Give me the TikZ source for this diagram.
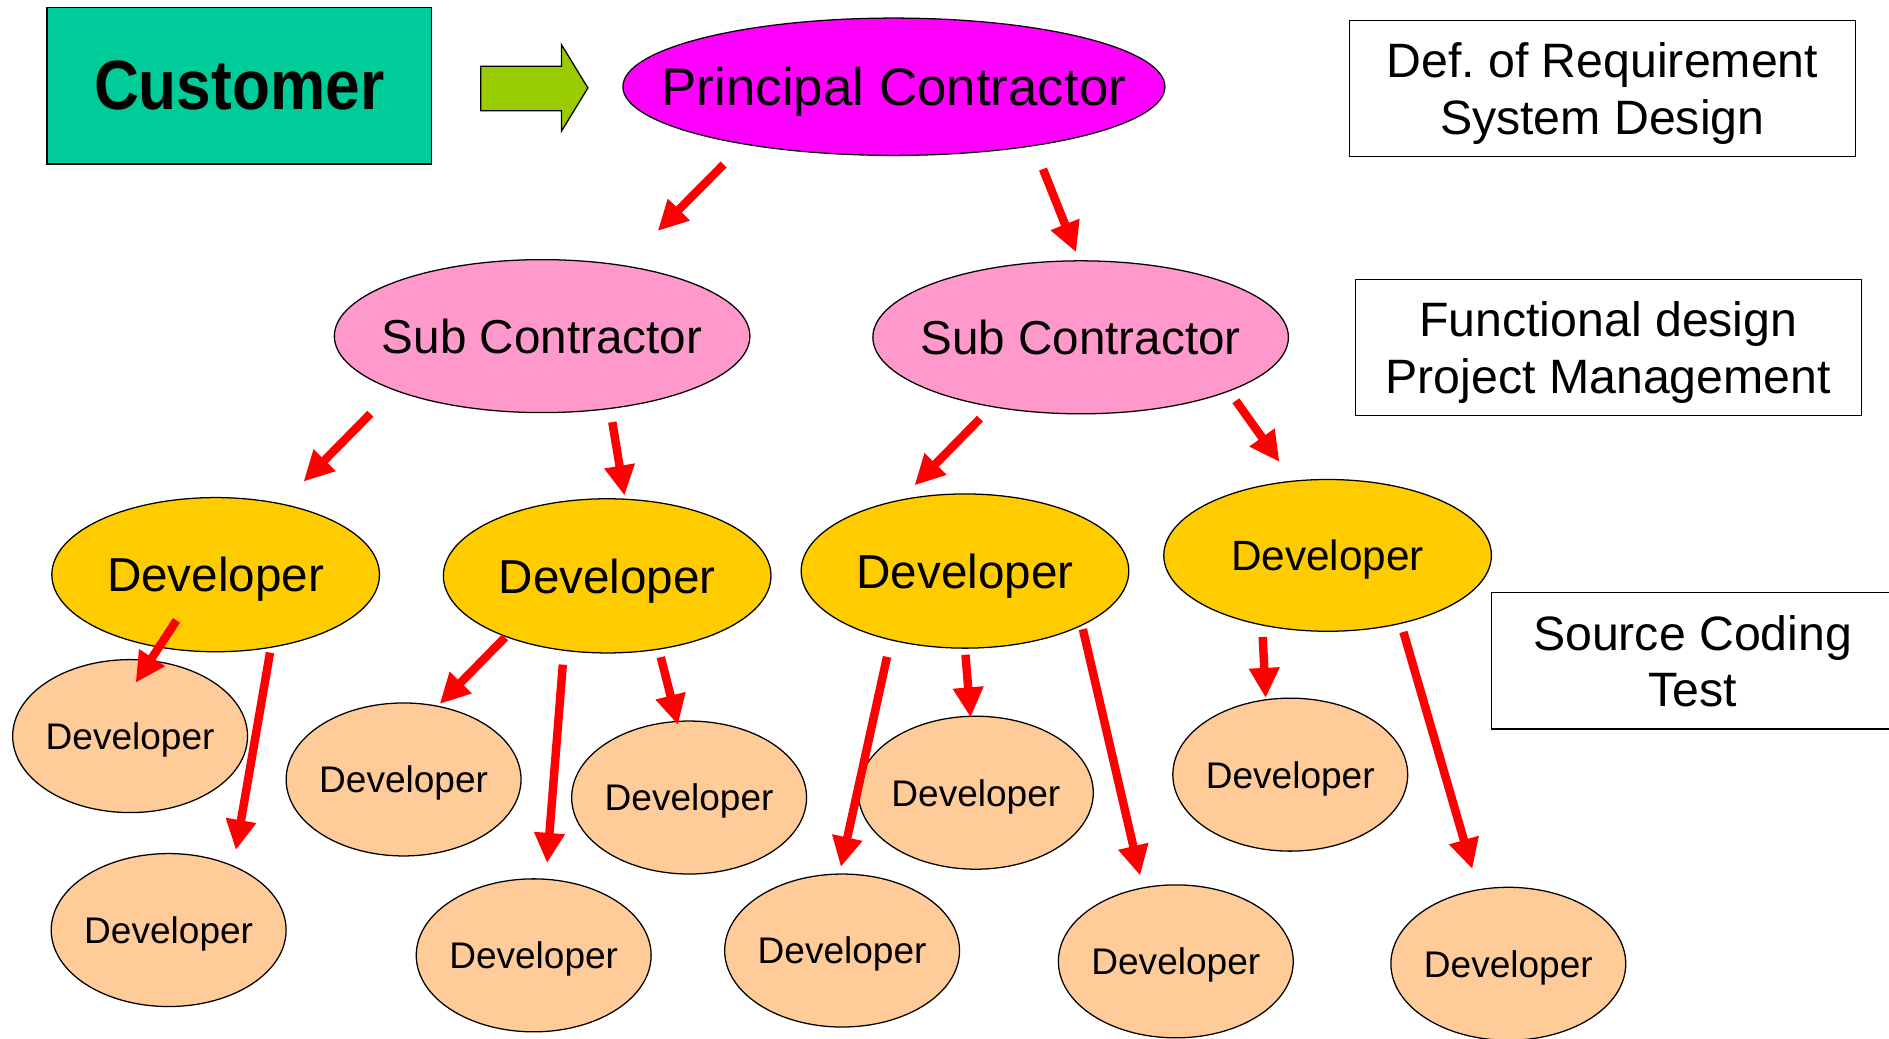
\documentclass[tikz,border=0pt]{standalone}
\usepackage{fontspec}
\setmainfont{Liberation Sans}
\usetikzlibrary{shapes.geometric}
\usetikzlibrary{arrows.meta}
\definecolor{custgreen}{RGB}{0, 204, 153}
\definecolor{flowgreen}{RGB}{153, 204, 0}
\definecolor{prinmag}{RGB}{255, 0, 255}
\definecolor{subpink}{RGB}{255, 153, 204}
\definecolor{devyellow}{RGB}{255, 204, 0}
\definecolor{devpeach}{RGB}{255, 204, 153}
\newcommand{\nodp}[1]{\raisebox{0pt}[\height][0pt]{#1}}
\newcommand{\nowd}[1]{\makebox[0pt]{\nodp{#1}}}

\begin{document}
\begin{tikzpicture}[
    x=0.02cm, y=-0.02cm,
    % node styles
    box/.style = {
      draw,
      line width=0.7pt,
      align=center,
      minimum width=8.4cm,
      minimum height=2.26cm,
      inner sep=0pt,
      font=\fontsize{22.8pt}{26.7pt}\selectfont
    },
    oval/.style = {ellipse, draw, line width=0.6pt, inner sep=0pt},
    prin/.style = {oval, fill=prinmag, minimum width=9cm, minimum height=2.28cm,
      font=\fontsize{25pt}{30pt}\selectfont},
    sub/.style = {oval, fill=subpink, minimum width=6.9cm, minimum height=2.54cm,
      font=\fontsize{22.5pt}{27pt}\selectfont},
    dev/.style = {oval, fill=devyellow, minimum width=5.44cm, minimum height=2.56cm,
      font=\fontsize{22.5pt}{27pt}\selectfont},
    team/.style = {oval, fill=devpeach, minimum width=3.9cm, minimum height=2.54cm,
      font=\fontsize{17.5pt}{21pt}\selectfont},
    % arrow styles
    arr/.style = {-{Triangle[length=0.5cm, width=0.48cm]}, line width=0.14cm, draw=red}
  ]
  \useasboundingbox (0,0) rectangle (1568,862);

  % --- Nodes
  \node[box, fill=custgreen, minimum width=6.38cm, minimum height=2.6cm,
    font=\bfseries\fontsize{33pt}{40pt}\selectfont] (cust) at (198.5,71)
    {\scalebox{0.89}[1]{Customer}};

  \node[prin] (prin) at (742,72) {\nowd{Principal Contractor}};

  \node[box] (req) at (1330,73.5) {Def.\ of Requirement\\\nodp{System Design}};
  \node[box] (func) at (1335,288.5) {Functional design\\\nodp{Project Management}};
  \node[box, minimum width=6.68cm] (code) at (1405,548.5) {Source Coding\\\nodp{Test}};

  \node[sub] (subl) at (450,279) {\nowd{Sub Contractor}};
  \node[sub] (subr) at (897,280) {\nowd{Sub Contractor}};

  \node[dev] (devA) at (179,477) {\nowd{Developer}};
  \node[dev] (devB) at (504,478) {\nowd{Developer}};
  \node[dev] (devC) at (801,474) {\nowd{Developer}};
  \node[dev, minimum height=2.52cm, font=\fontsize{20pt}{24pt}\selectfont] (devD) at (1102,461) {\nowd{Developer}};

  \node[team] (tA1) at (108,611) {\nowd{Developer}};
  \node[team] (tA2) at (140,772) {\nowd{Developer}};
  \node[team] (tB1) at (335,647) {\nowd{Developer}};
  \node[team] (tB2) at (443,793) {\nowd{Developer}};
  \node[team] (tB3) at (572,662) {\nowd{Developer}};
  \node[team] (tC1) at (699,789) {\nowd{Developer}};
  \node[team] (tC2) at (810,658) {\nowd{Developer}};
  \node[team] (tC3) at (976,798) {\nowd{Developer}};
  \node[team] (tD1) at (1071,643) {\nowd{Developer}};
  \node[team] (tD2) at (1252,800) {\nowd{Developer}};

  % --- block arrow between customer and principal
  \filldraw[fill=flowgreen, line width=0.6pt, line join=miter]
    (399,55) -- (466,55) -- (466,37) -- (488,73) -- (466,109) -- (466,92) -- (399,92) -- cycle;

  % --- Arrows
  \draw[arr, shorten <=0.47cm, shorten >=0.80cm] (prin.201) -- (subl.41);
  \draw[arr, shorten <=0.41cm, shorten >=0.14cm] (prin.337) -- (subr.91);

  \draw[arr, shorten <=0.55cm, shorten >=0.51cm] (subl.200) -- (devA.47);
  \draw[arr, shorten <=0.22cm, shorten >=0.05cm] (subl.313) -- (devB.77);
  \draw[arr, shorten <=0.27cm, shorten >=0.33cm] (subr.218) -- (devC.132);
  \draw[arr, shorten <=0.19cm, shorten >=0.38cm] (subr.340) -- (devD.115);

  \draw[arr, shorten <=-0.54cm, shorten >=-0.45cm] (devA.232) -- (tA1.75);
  \draw[arr, shorten <=0.08cm, shorten >=0.26cm] (devA.307) -- (tA2.45);

  \draw[arr, shorten <=0.01cm, shorten >=0.04cm] (devB.211) -- (tB1.65);
  \draw[arr, shorten <=0.23cm, shorten >=0.26cm] (devB.240) -- (tB2.81);
  \draw[arr, shorten <=0.13cm, shorten >=-0.07cm] (devB.305) -- (tB3.99);

  \draw[arr, shorten <=0.28cm, shorten >=0.11cm] (devC.223) -- (tC1.92);
  \draw[arr, shorten <=0.10cm, shorten >=-0.03cm] (devC.270) -- (tC2.94);
  \draw[arr, shorten <=0.06cm, shorten >=0.20cm] (devC.335) -- (tC3.114);

  \draw[arr, shorten <=0.19cm, shorten >=0.02cm] (devD.227) -- (tD1.108);
  \draw[arr, shorten <=0.14cm, shorten >=0.35cm] (devD.317) -- (tD2.112);

\end{tikzpicture}
\end{document}
